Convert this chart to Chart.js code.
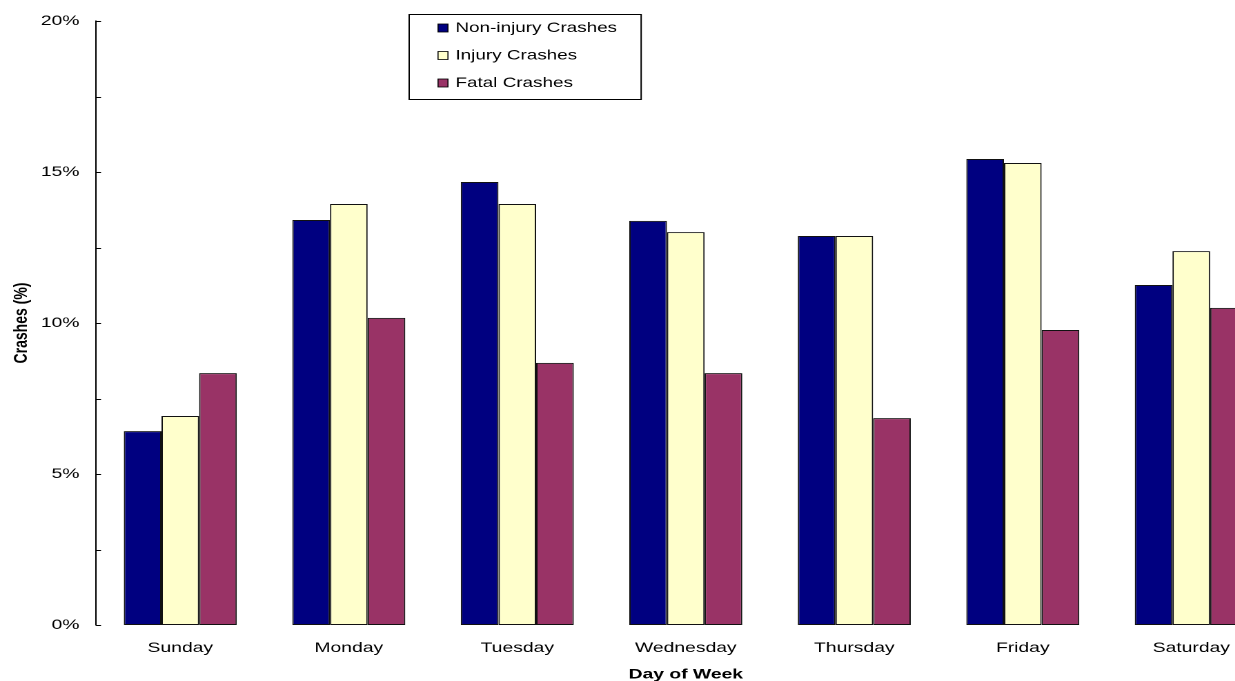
<!DOCTYPE html>
<html>
<head>
<meta charset="utf-8">
<script src="https://cdn.jsdelivr.net/npm/chart.js@4/dist/chart.umd.min.js"></script>
<style>
  html, body { margin: 0; padding: 0; background: #fff; overflow: hidden; }
  #wrap { position: relative; width: 1235px; height: 681px; overflow: hidden; }
  /* the chart is drawn narrow and widened horizontally */
  #c { position: absolute; left: 0; top: 0; transform: scaleX(1.38); transform-origin: 0 0; }
</style>
</head>
<body>
<div id="wrap"><canvas id="c" width="927" height="681"></canvas></div>
<script>
const days = ['Sunday', 'Monday', 'Tuesday', 'Wednesday', 'Thursday', 'Friday', 'Saturday'];
const nonInjury = [6.42, 13.41, 14.67, 13.38, 12.88, 15.43, 11.26];
const injury    = [6.92, 13.94, 13.94, 13.01, 12.88, 15.30, 12.38];
const fatal     = [8.34, 10.17, 8.68, 8.34, 6.85, 9.77, 10.50];
const seriesNames = ['Non-injury Crashes', 'Injury Crashes', 'Fatal Crashes'];
const yLabelTicks = [0, 5, 10, 15, 20];

const FONT = '"Liberation Sans", Arial, sans-serif';

// short tick marks on the inside of the value axis
const innerTicks = {
  id: 'innerTicks',
  afterDatasetsDraw(chart) {
    const { ctx, chartArea, scales: { y } } = chart;
    ctx.save();
    ctx.strokeStyle = '#000';
    ctx.lineWidth = 1;
    y.ticks.forEach(t => {
      const py = Math.round(y.getPixelForValue(t.value)) + 0.5;
      ctx.beginPath();
      ctx.moveTo(chartArea.left, py);
      ctx.lineTo(chartArea.left + 3.6, py);
      ctx.stroke();
    });
    ctx.restore();
  }
};

// boxed legend floating over the plot
const boxLegend = {
  id: 'boxLegend',
  afterDraw(chart) {
    const { ctx } = chart;
    const x0 = 295.7, y0 = 14, w = 168.1, h = 85;
    ctx.save();
    ctx.fillStyle = '#fff';
    ctx.fillRect(x0, y0, w, h);
    ctx.strokeStyle = '#000';
    ctx.lineWidth = 1;
    ctx.strokeRect(Math.round(x0) + 0.5, y0 + 0.5, w, h);
    ctx.font = '13.7px ' + FONT;
    ctx.textBaseline = 'middle';
    const rows = [28, 55.5, 83];
    chart.data.datasets.forEach((ds, i) => {
      const cy = rows[i];
      ctx.fillStyle = ds.backgroundColor;
      ctx.fillRect(317.4, cy - 4, 7.2, 8);
      ctx.strokeStyle = '#000';
      ctx.lineWidth = 0.8;
      ctx.strokeRect(317.4, cy - 4, 7.2, 8);
      ctx.fillStyle = '#000';
      ctx.fillText(ds.label, 330, cy);
    });
    ctx.restore();
  }
};

new Chart(document.getElementById('c'), {
  type: 'bar',
  data: {
    labels: days,
    datasets: [
      { label: seriesNames[0], data: nonInjury, backgroundColor: '#000080' },
      { label: seriesNames[1], data: injury,    backgroundColor: '#FFFFCC' },
      { label: seriesNames[2], data: fatal,     backgroundColor: '#993366' }
    ]
  },
  options: {
    responsive: false,
    animation: false,
    devicePixelRatio: 2,
    layout: { padding: { top: 21, right: 2.7, bottom: 0, left: 0 } },
    datasets: {
      bar: {
        categoryPercentage: 0.6706,
        barPercentage: 1.0,
        borderColor: '#111',
        borderWidth: 1,
        borderSkipped: false
      }
    },
    plugins: {
      legend: { display: false },
      tooltip: { enabled: false }
    },
    scales: {
      x: {
        grid: { display: false },
        border: { display: false },
        ticks: { color: '#000', font: { family: FONT, size: 14 }, padding: 6.6, maxRotation: 0 },
        title: {
          display: true, text: 'Day of Week', color: '#000',
          font: { family: FONT, size: 14, weight: 'bold' },
          padding: { top: 0, bottom: -2 }
        },
        afterFit(scale) { scale.height = 56; }
      },
      y: {
        min: 0, max: 20,
        grid: { display: false },
        border: { display: true, color: '#000', width: 1 },
        ticks: {
          stepSize: 2.5,
          color: '#000',
          font: { family: FONT, size: 14 },
          padding: 4,
          callback: v => yLabelTicks.includes(v) ? v + '%' : ''
        },
        title: {
          display: true, text: 'Crashes (%)', color: '#000',
          font: { family: FONT, size: 14, weight: 'bold' },
          padding: { top: 7, bottom: 0 }
        },
        afterFit(scale) { scale.width = 69.6; }
      }
    }
  },
  plugins: [innerTicks, boxLegend]
});
</script>
</body>
</html>
